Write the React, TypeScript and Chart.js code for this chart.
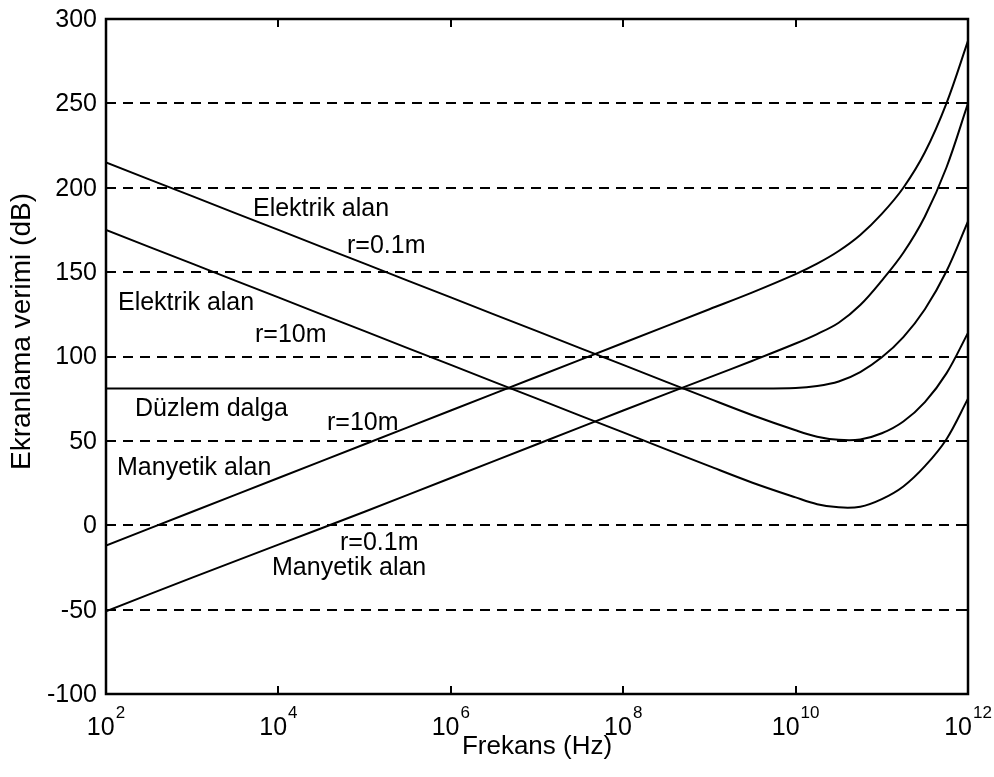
import React, { useEffect, useRef } from 'react';
import { Chart, registerables } from 'chart.js';

Chart.register(...registerables);

// log10 of frequency (Hz) at which each series value is read
const exponents = [2, 3, 4, 5, 6, 7, 8, 9, 9.5, 10, 10.25, 10.5, 10.75, 11, 11.25, 11.5, 11.75, 12];
// Ekranlama verimi (dB)
const elektrik01 = [215, 195, 175, 155, 135, 115, 95, 75, 65.2, 56.3, 52.5, 50.6, 50.8, 54.5, 61.5, 73, 90, 114];
const elektrik10 = [175, 155, 135, 115, 95, 75, 55, 35, 25.2, 16.5, 12.5, 10.6, 11, 15.5, 23, 35, 51, 75];
const duzlem = [81, 81, 81, 81, 81, 81, 81, 81, 81, 81.3, 82.5, 85.2, 90.8, 99.5, 111.5, 128, 150.5, 180];
const manyetik10 = [-12, 8, 28, 48, 68, 88, 108, 128, 138, 148.8, 155, 162.5, 172, 184.5, 200, 221, 250, 287];
const manyetik01 = [-51, -31, -11.5, 8, 28, 48, 68, 87.6, 97.5, 107.7, 113.3, 120, 130.5, 145, 161.5, 183, 212, 250];

const xTickExponents = [2, 4, 6, 8, 10, 12];
const yTicks = [-100, -50, 0, 50, 100, 150, 200, 250, 300];

// in-plot text labels: text, log10(frequency) of left edge, dB of baseline
const labelTexts = ['Elektrik alan', 'r=0.1m', 'Elektrik alan', 'r=10m', 'Düzlem dalga', 'r=10m', 'Manyetik alan', 'r=0.1m', 'Manyetik alan'];
const labelExp = [3.705, 4.796, 2.139, 3.729, 2.336, 4.564, 2.128, 4.715, 3.926];
const labelDb = [183.3, 161.3, 127.6, 108.6, 64.7, 56.4, 29.8, -14.7, -29.5];

const xTitle = 'Frekans (Hz)';
const yTitle = 'Ekranlama verimi (dB)';

const FONT = '"Liberation Sans", Arial, Helvetica, sans-serif';

const toPoints = (vals: number[]) => vals.map((v, i) => ({ x: Math.pow(10, exponents[i]), y: v }));

const decor = {
  id: 'decor',
  beforeDatasetsDraw(chart: any) {
    const { ctx, chartArea: a, scales } = chart;
    const y = scales.y;
    ctx.save();
    ctx.strokeStyle = '#000';
    ctx.lineWidth = 2;
    ctx.setLineDash([10, 7]);
    for (const v of yTicks) {
      if (v <= -100 || v >= 300) continue;
      const py = Math.round(y.getPixelForValue(v));
      ctx.beginPath();
      ctx.moveTo(a.left, py);
      ctx.lineTo(a.right, py);
      ctx.stroke();
    }
    ctx.restore();
  },
  afterDraw(chart: any) {
    const { ctx, chartArea: a, scales } = chart;
    const x = scales.x;
    const y = scales.y;
    ctx.save();
    ctx.strokeStyle = '#000';
    ctx.fillStyle = '#000';
    ctx.setLineDash([]);
    // ticks
    ctx.lineWidth = 2;
    const tl = 8;
    for (const e of xTickExponents) {
      const px = Math.round(x.getPixelForValue(Math.pow(10, e)));
      ctx.beginPath();
      ctx.moveTo(px, a.bottom);
      ctx.lineTo(px, a.bottom - tl);
      ctx.moveTo(px, a.top);
      ctx.lineTo(px, a.top + tl);
      ctx.stroke();
    }
    for (const v of yTicks) {
      const py = Math.round(y.getPixelForValue(v));
      ctx.beginPath();
      ctx.moveTo(a.left, py);
      ctx.lineTo(a.left + tl, py);
      ctx.moveTo(a.right, py);
      ctx.lineTo(a.right - tl, py);
      ctx.stroke();
    }
    // frame
    ctx.lineWidth = 2.5;
    ctx.strokeRect(a.left, a.top, a.right - a.left, a.bottom - a.top);

    // y tick labels
    ctx.font = `25px ${FONT}`;
    ctx.textAlign = 'right';
    ctx.textBaseline = 'middle';
    for (const v of yTicks) {
      ctx.fillText(String(v), a.left - 9, y.getPixelForValue(v) + 1);
    }

    // x tick labels 10^n
    ctx.textBaseline = 'alphabetic';
    for (const e of xTickExponents) {
      const px = x.getPixelForValue(Math.pow(10, e));
      ctx.font = `25px ${FONT}`;
      const baseW = ctx.measureText('10').width;
      ctx.font = `17px ${FONT}`;
      const expW = ctx.measureText(String(e)).width;
      const start = px - (baseW + expW + 1) / 2;
      ctx.font = `25px ${FONT}`;
      ctx.textAlign = 'left';
      ctx.fillText('10', start, a.bottom + 41);
      ctx.font = `17px ${FONT}`;
      ctx.fillText(String(e), start + baseW + 1, a.bottom + 24);
    }

    // axis titles
    ctx.font = `26px ${FONT}`;
    ctx.textAlign = 'center';
    ctx.fillText(xTitle, (a.left + a.right) / 2, a.bottom + 60);
    ctx.save();
    ctx.font = `28px ${FONT}`;
    ctx.translate(30, (a.top + a.bottom) / 2 - 25);
    ctx.rotate(-Math.PI / 2);
    ctx.fillText(yTitle, 0, 0);
    ctx.restore();

    // in-plot labels
    ctx.font = `25px ${FONT}`;
    ctx.textAlign = 'left';
    labelTexts.forEach((t, i) => {
      const px = x.getPixelForValue(Math.pow(10, labelExp[i]));
      const py = y.getPixelForValue(labelDb[i]);
      ctx.fillText(t, px, py);
    });
    ctx.restore();
  },
};

export default function App() {
  const ref = useRef<HTMLCanvasElement>(null);
  useEffect(() => {
    if (!ref.current) return;
    const mk = (vals: number[]) => ({
      data: toPoints(vals),
      borderColor: '#000',
      borderWidth: 2,
      pointRadius: 0,
      fill: false,
      tension: 0.35,
    });
    const chart = new Chart(ref.current, {
      type: 'line',
      data: {
        datasets: [mk(elektrik01), mk(elektrik10), mk(duzlem), mk(manyetik10), mk(manyetik01)],
      },
      options: {
        animation: false,
        responsive: true,
        maintainAspectRatio: false,
        layout: { padding: { top: 19, right: 26, bottom: 0, left: 0 } },
        plugins: { legend: { display: false }, tooltip: { enabled: false } },
        scales: {
          x: {
            type: 'logarithmic',
            min: 1e2,
            max: 1e12,
            grid: { display: false, drawTicks: false },
            border: { display: false },
            ticks: { display: false },
            afterBuildTicks: (s: any) => {
              s.ticks = xTickExponents.map((e) => ({ value: Math.pow(10, e) }));
            },
            afterFit: (s: any) => {
              s.height = 83;
            },
          },
          y: {
            type: 'linear',
            min: -100,
            max: 300,
            grid: { display: false, drawTicks: false },
            border: { display: false },
            ticks: { display: false, stepSize: 50 },
            afterFit: (s: any) => {
              s.width = 106;
            },
          },
        },
      },
      plugins: [decor],
    });
    return () => chart.destroy();
  }, []);
  return (
    <div style={{ position: 'absolute', left: 0, top: 0, width: 994, height: 777, background: '#fff' }}>
      <canvas ref={ref} />
    </div>
  );
}
